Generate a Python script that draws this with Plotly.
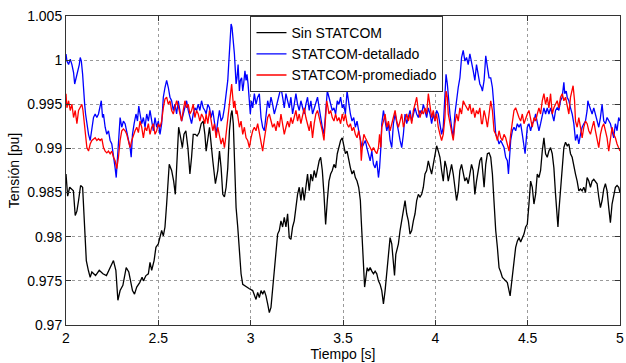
import plotly.graph_objects as go

# (time [s], voltage [pu]) samples
sin_statcom = [
    (2.000, 0.9871), (2.009, 0.9846), (2.020, 0.9856), (2.040, 0.9852), (2.050, 0.9824),
    (2.059, 0.9829), (2.068, 0.9841), (2.079, 0.9858), (2.090, 0.9856), (2.101, 0.9818),
    (2.110, 0.9773), (2.121, 0.9762), (2.131, 0.9754), (2.140, 0.9760), (2.160, 0.9756),
    (2.180, 0.9762), (2.200, 0.9758), (2.219, 0.9756), (2.239, 0.9765), (2.257, 0.9773),
    (2.270, 0.9762), (2.281, 0.9728), (2.293, 0.9739), (2.308, 0.9745), (2.326, 0.9765),
    (2.340, 0.9760), (2.360, 0.9739), (2.371, 0.9735), (2.383, 0.9743), (2.399, 0.9748),
    (2.412, 0.9754), (2.419, 0.9750), (2.433, 0.9756), (2.446, 0.9758), (2.455, 0.9771),
    (2.464, 0.9762), (2.477, 0.9773), (2.487, 0.9788), (2.500, 0.9792), (2.509, 0.9801),
    (2.518, 0.9807), (2.527, 0.9801), (2.536, 0.9811), (2.545, 0.9837), (2.559, 0.9882),
    (2.572, 0.9875), (2.583, 0.9863), (2.592, 0.9848), (2.601, 0.9879), (2.610, 0.9924),
    (2.621, 0.9912), (2.630, 0.9901), (2.639, 0.9916), (2.649, 0.9920), (2.660, 0.9901),
    (2.671, 0.9871), (2.680, 0.9890), (2.689, 0.9916), (2.700, 0.9916), (2.710, 0.9914),
    (2.721, 0.9918), (2.732, 0.9928), (2.743, 0.9931), (2.752, 0.9916),
    (2.759, 0.9897), (2.777, 0.9924), (2.795, 0.9886), (2.809, 0.9860), (2.822, 0.9875),
    (2.831, 0.9897), (2.840, 0.9878), (2.849, 0.9848), (2.858, 0.9845), (2.867, 0.9856),
    (2.876, 0.9878), (2.885, 0.9920), (2.894, 0.9939), (2.899, 0.9943), (2.906, 0.9928),
    (2.914, 0.9886), (2.921, 0.9833), (2.930, 0.9811), (2.939, 0.9780), (2.948, 0.9758),
    (2.957, 0.9746), (2.975, 0.9743), (2.993, 0.9741), (3.011, 0.9739), (3.029, 0.9729),
    (3.038, 0.9737), (3.047, 0.9731), (3.056, 0.9739), (3.065, 0.9735), (3.074, 0.9739),
    (3.083, 0.9733), (3.092, 0.9724), (3.101, 0.9714), (3.110, 0.9720), (3.119, 0.9739),
    (3.128, 0.9765), (3.137, 0.9780), (3.146, 0.9803), (3.155, 0.9807), (3.164, 0.9818),
    (3.173, 0.9811), (3.182, 0.9822), (3.191, 0.9811), (3.200, 0.9826), (3.209, 0.9799),
    (3.218, 0.9797), (3.227, 0.9811), (3.236, 0.9818), (3.245, 0.9833), (3.254, 0.9848),
    (3.263, 0.9856), (3.272, 0.9841), (3.281, 0.9856), (3.290, 0.9841), (3.299, 0.9856),
    (3.308, 0.9871), (3.317, 0.9852), (3.326, 0.9871), (3.335, 0.9863), (3.344, 0.9875),
    (3.353, 0.9867), (3.362, 0.9878), (3.371, 0.9886), (3.379, 0.9890), (3.388, 0.9875),
    (3.397, 0.9848), (3.406, 0.9814), (3.415, 0.9841), (3.424, 0.9863), (3.433, 0.9871),
    (3.442, 0.9875), (3.451, 0.9882), (3.460, 0.9878), (3.469, 0.9894), (3.478, 0.9901),
    (3.487, 0.9909), (3.496, 0.9912),
    (3.504, 0.9905), (3.513, 0.9894), (3.522, 0.9897), (3.531, 0.9886), (3.540, 0.9878),
    (3.549, 0.9871), (3.558, 0.9875), (3.567, 0.9867), (3.576, 0.9863), (3.585, 0.9856),
    (3.594, 0.9841), (3.599, 0.9818), (3.606, 0.9788), (3.612, 0.9758), (3.617, 0.9743),
    (3.624, 0.9754), (3.631, 0.9765), (3.638, 0.9761), (3.647, 0.9765), (3.656, 0.9761),
    (3.665, 0.9758), (3.674, 0.9761), (3.683, 0.9758), (3.692, 0.9750), (3.701, 0.9746),
    (3.710, 0.9739), (3.719, 0.9724), (3.728, 0.9739), (3.737, 0.9761), (3.746, 0.9780),
    (3.755, 0.9799), (3.764, 0.9792), (3.773, 0.9773), (3.779, 0.9756), (3.786, 0.9780),
    (3.793, 0.9788), (3.800, 0.9792), (3.809, 0.9807), (3.818, 0.9818), (3.827, 0.9833),
    (3.836, 0.9841), (3.845, 0.9826), (3.854, 0.9818), (3.863, 0.9803), (3.872, 0.9807),
    (3.881, 0.9818), (3.890, 0.9826), (3.899, 0.9841), (3.908, 0.9848), (3.917, 0.9845),
    (3.926, 0.9848), (3.935, 0.9856), (3.944, 0.9871), (3.953, 0.9875), (3.962, 0.9886),
    (3.971, 0.9878), (3.980, 0.9871), (3.989, 0.9882), (3.998, 0.9894), (4.007, 0.9903),
    (4.016, 0.9897), (4.025, 0.9890), (4.034, 0.9875), (4.043, 0.9863), (4.052, 0.9886),
    (4.061, 0.9878), (4.070, 0.9863), (4.079, 0.9875), (4.088, 0.9882), (4.097, 0.9871),
    (4.106, 0.9856), (4.115, 0.9841), (4.124, 0.9852), (4.133, 0.9875), (4.142, 0.9882),
    (4.151, 0.9871), (4.160, 0.9863), (4.169, 0.9867), (4.178, 0.9860), (4.187, 0.9871),
    (4.196, 0.9882), (4.205, 0.9875), (4.214, 0.9848), (4.223, 0.9863), (4.232, 0.9875),
    (4.241, 0.9886), (4.250, 0.9890),
    (4.255, 0.9878), (4.264, 0.9856), (4.273, 0.9882), (4.282, 0.9894), (4.291, 0.9895),
    (4.300, 0.9890), (4.309, 0.9871), (4.318, 0.9833), (4.327, 0.9807), (4.336, 0.9788),
    (4.345, 0.9765), (4.354, 0.9760), (4.363, 0.9754), (4.372, 0.9752), (4.381, 0.9750),
    (4.390, 0.9748), (4.399, 0.9739), (4.405, 0.9733), (4.412, 0.9746), (4.419, 0.9758),
    (4.426, 0.9777), (4.435, 0.9788), (4.444, 0.9795), (4.453, 0.9799), (4.462, 0.9794),
    (4.471, 0.9799), (4.480, 0.9803), (4.489, 0.9811), (4.498, 0.9814), (4.507, 0.9837),
    (4.516, 0.9863), (4.525, 0.9856), (4.534, 0.9837), (4.543, 0.9848), (4.552, 0.9871),
    (4.561, 0.9867), (4.570, 0.9875), (4.579, 0.9897), (4.588, 0.9912), (4.597, 0.9894),
    (4.606, 0.9890), (4.615, 0.9897), (4.624, 0.9901), (4.633, 0.9894), (4.642, 0.9878),
    (4.651, 0.9848), (4.660, 0.9814), (4.664, 0.9811), (4.669, 0.9829), (4.678, 0.9856),
    (4.687, 0.9882), (4.696, 0.9901), (4.705, 0.9907), (4.714, 0.9903), (4.723, 0.9905),
    (4.732, 0.9894), (4.741, 0.9890), (4.750, 0.9878), (4.759, 0.9871), (4.768, 0.9863),
    (4.777, 0.9852), (4.786, 0.9854), (4.795, 0.9852), (4.804, 0.9856), (4.813, 0.9850),
    (4.822, 0.9867), (4.831, 0.9863), (4.840, 0.9856), (4.849, 0.9863), (4.858, 0.9865),
    (4.867, 0.9863), (4.876, 0.9860), (4.885, 0.9845), (4.894, 0.9833), (4.903, 0.9841),
    (4.912, 0.9854), (4.921, 0.9860), (4.930, 0.9852), (4.939, 0.9833), (4.948, 0.9816),
    (4.957, 0.9837), (4.966, 0.9848), (4.975, 0.9856), (4.984, 0.9858), (4.993, 0.9856),
    (5.000, 0.9850),
]

statcom_detallado = [
    (2.000, 1.0007), (2.005, 0.9999), (2.014, 0.9995), (2.023, 1.0001), (2.032, 0.9995),
    (2.041, 0.9986), (2.047, 0.9973), (2.056, 0.9980), (2.063, 0.9986), (2.072, 0.9995),
    (2.077, 1.0003), (2.083, 0.9999), (2.090, 0.9984), (2.095, 0.9962), (2.101, 0.9950),
    (2.106, 0.9939), (2.113, 0.9928), (2.122, 0.9916), (2.131, 0.9909), (2.140, 0.9924),
    (2.149, 0.9935), (2.158, 0.9939), (2.167, 0.9935), (2.176, 0.9939), (2.185, 0.9950),
    (2.191, 0.9954), (2.198, 0.9935), (2.203, 0.9939), (2.212, 0.9924), (2.221, 0.9916),
    (2.230, 0.9920), (2.239, 0.9909), (2.248, 0.9905), (2.257, 0.9894), (2.266, 0.9878),
    (2.272, 0.9867), (2.279, 0.9886), (2.284, 0.9901), (2.293, 0.9935), (2.302, 0.9924),
    (2.311, 0.9931), (2.320, 0.9928), (2.329, 0.9920), (2.338, 0.9909), (2.347, 0.9901),
    (2.353, 0.9890), (2.360, 0.9916), (2.369, 0.9928), (2.379, 0.9939), (2.387, 0.9931),
    (2.394, 0.9948), (2.401, 0.9939), (2.410, 0.9928), (2.419, 0.9935), (2.428, 0.9924),
    (2.437, 0.9939), (2.446, 0.9931), (2.455, 0.9943), (2.464, 0.9931), (2.473, 0.9920),
    (2.482, 0.9935), (2.491, 0.9924), (2.500, 0.9931), (2.509, 0.9916), (2.518, 0.9928),
    (2.527, 0.9958), (2.536, 0.9969), (2.545, 0.9977), (2.554, 0.9969), (2.563, 0.9958),
    (2.572, 0.9954), (2.581, 0.9943), (2.590, 0.9950), (2.599, 0.9939), (2.608, 0.9954),
    (2.617, 0.9943), (2.626, 0.9931), (2.635, 0.9939), (2.644, 0.9946), (2.653, 0.9954),
    (2.662, 0.9943), (2.671, 0.9935), (2.680, 0.9928), (2.689, 0.9939), (2.698, 0.9946),
    (2.707, 0.9943), (2.716, 0.9950), (2.725, 0.9943), (2.734, 0.9954), (2.743, 0.9946),
    (2.752, 0.9943),
    (2.759, 0.9939), (2.768, 0.9950), (2.777, 0.9946), (2.786, 0.9935), (2.795, 0.9943),
    (2.804, 0.9928), (2.813, 0.9916), (2.822, 0.9931), (2.831, 0.9943), (2.840, 0.9931),
    (2.849, 0.9935), (2.858, 0.9946), (2.867, 0.9962), (2.876, 0.9977), (2.881, 0.9995),
    (2.888, 1.0022), (2.894, 1.0041), (2.899, 1.0037), (2.906, 1.0022), (2.912, 1.0007),
    (2.917, 0.9988), (2.921, 0.9973), (2.926, 0.9980), (2.932, 0.9995), (2.939, 0.9965),
    (2.944, 0.9977), (2.951, 0.9980), (2.957, 0.9965), (2.962, 0.9973), (2.969, 0.9988),
    (2.975, 0.9977), (2.980, 0.9984), (2.986, 0.9973), (2.993, 0.9946), (2.998, 0.9939),
    (3.004, 0.9954), (3.011, 0.9946), (3.020, 0.9962), (3.029, 0.9950), (3.038, 0.9958),
    (3.047, 0.9962), (3.056, 0.9935), (3.065, 0.9924), (3.074, 0.9920), (3.083, 0.9939),
    (3.092, 0.9954), (3.101, 0.9946), (3.110, 0.9958), (3.119, 0.9950), (3.128, 0.9939),
    (3.137, 0.9946), (3.146, 0.9954), (3.155, 0.9962), (3.164, 0.9969), (3.173, 0.9958),
    (3.182, 0.9946), (3.191, 0.9962), (3.200, 0.9954), (3.209, 0.9946), (3.218, 0.9958),
    (3.227, 0.9939), (3.236, 0.9950), (3.245, 0.9962), (3.254, 0.9950), (3.263, 0.9943),
    (3.272, 0.9954), (3.281, 0.9946), (3.290, 0.9939), (3.299, 0.9950), (3.308, 0.9958),
    (3.317, 0.9943), (3.326, 0.9954), (3.335, 0.9939), (3.344, 0.9946), (3.353, 0.9954),
    (3.362, 0.9958), (3.371, 0.9946), (3.379, 0.9935), (3.388, 0.9924), (3.397, 0.9916),
    (3.406, 0.9943), (3.415, 0.9965), (3.424, 0.9958), (3.433, 0.9950), (3.442, 0.9943),
    (3.451, 0.9946), (3.460, 0.9939), (3.469, 0.9954), (3.478, 0.9950), (3.487, 0.9958),
    (3.496, 0.9946),
    (3.504, 0.9950), (3.513, 0.9939), (3.522, 0.9965), (3.531, 0.9950), (3.540, 0.9939),
    (3.549, 0.9931), (3.558, 0.9935), (3.567, 0.9924), (3.576, 0.9931), (3.585, 0.9920),
    (3.594, 0.9912), (3.603, 0.9901), (3.612, 0.9905), (3.621, 0.9909), (3.629, 0.9901),
    (3.638, 0.9894), (3.647, 0.9886), (3.656, 0.9897), (3.665, 0.9882), (3.674, 0.9878),
    (3.683, 0.9886), (3.692, 0.9867), (3.698, 0.9878), (3.705, 0.9901), (3.710, 0.9928),
    (3.719, 0.9943), (3.728, 0.9931), (3.737, 0.9920), (3.746, 0.9928), (3.755, 0.9909),
    (3.764, 0.9901), (3.773, 0.9928), (3.782, 0.9939), (3.791, 0.9931), (3.800, 0.9920),
    (3.809, 0.9909), (3.818, 0.9901), (3.827, 0.9916), (3.836, 0.9939), (3.845, 0.9928),
    (3.854, 0.9935), (3.863, 0.9943), (3.872, 0.9931), (3.881, 0.9939), (3.890, 0.9946),
    (3.899, 0.9939), (3.908, 0.9935), (3.917, 0.9943), (3.926, 0.9939), (3.935, 0.9950),
    (3.944, 0.9943), (3.953, 0.9935), (3.962, 0.9946), (3.971, 0.9939), (3.980, 0.9928),
    (3.989, 0.9939), (3.998, 0.9931), (4.007, 0.9943), (4.016, 0.9939), (4.025, 0.9928),
    (4.034, 0.9916), (4.043, 0.9924), (4.052, 0.9969), (4.058, 0.9984), (4.065, 0.9973),
    (4.070, 0.9958), (4.079, 0.9939), (4.088, 0.9924), (4.097, 0.9912), (4.106, 0.9939),
    (4.115, 0.9958), (4.124, 0.9969), (4.133, 0.9980), (4.142, 1.0003), (4.151, 1.0011),
    (4.160, 0.9999), (4.169, 1.0003), (4.178, 0.9995), (4.187, 1.0007), (4.196, 0.9999),
    (4.205, 0.9988), (4.214, 0.9977), (4.223, 0.9995), (4.232, 0.9984), (4.241, 0.9973),
    (4.250, 0.9969),
    (4.255, 0.9965), (4.264, 0.9977), (4.273, 1.0005), (4.282, 0.9992), (4.291, 0.9980),
    (4.300, 0.9980), (4.309, 0.9969), (4.315, 0.9954), (4.322, 0.9928), (4.327, 0.9916),
    (4.336, 0.9912), (4.345, 0.9905), (4.354, 0.9909), (4.363, 0.9905), (4.372, 0.9901),
    (4.381, 0.9890), (4.390, 0.9886), (4.396, 0.9871), (4.401, 0.9894), (4.408, 0.9909),
    (4.417, 0.9920), (4.426, 0.9924), (4.435, 0.9920), (4.444, 0.9928), (4.453, 0.9924),
    (4.462, 0.9928), (4.471, 0.9916), (4.480, 0.9901), (4.486, 0.9894), (4.493, 0.9912),
    (4.498, 0.9924), (4.507, 0.9928), (4.516, 0.9920), (4.525, 0.9928), (4.534, 0.9931),
    (4.543, 0.9939), (4.552, 0.9931), (4.561, 0.9920), (4.570, 0.9928), (4.579, 0.9939),
    (4.588, 0.9946), (4.597, 0.9939), (4.606, 0.9946), (4.615, 0.9939), (4.624, 0.9946),
    (4.633, 0.9939), (4.642, 0.9931), (4.651, 0.9943), (4.660, 0.9946), (4.669, 0.9943),
    (4.678, 0.9954), (4.687, 0.9958), (4.696, 0.9975), (4.701, 0.9962), (4.709, 0.9965),
    (4.714, 0.9958), (4.723, 0.9954), (4.732, 0.9946), (4.741, 0.9939), (4.750, 0.9928),
    (4.759, 0.9909), (4.768, 0.9916), (4.777, 0.9905), (4.786, 0.9916), (4.795, 0.9924),
    (4.804, 0.9928), (4.813, 0.9931), (4.822, 0.9943), (4.826, 0.9954), (4.831, 0.9950),
    (4.840, 0.9943), (4.849, 0.9939), (4.858, 0.9946), (4.867, 0.9939), (4.876, 0.9931),
    (4.885, 0.9924), (4.894, 0.9935), (4.903, 0.9950), (4.912, 0.9931), (4.921, 0.9928),
    (4.930, 0.9935), (4.939, 0.9931), (4.948, 0.9928), (4.957, 0.9920), (4.966, 0.9912),
    (4.975, 0.9928), (4.984, 0.9920), (4.993, 0.9935), (5.000, 0.9931),
]

statcom_promediado = [
    (2.000, 0.9962), (2.005, 0.9946), (2.014, 0.9954), (2.023, 0.9943), (2.032, 0.9950),
    (2.041, 0.9935), (2.050, 0.9943), (2.059, 0.9928), (2.068, 0.9943), (2.077, 0.9946),
    (2.086, 0.9950), (2.092, 0.9943), (2.099, 0.9928), (2.106, 0.9909), (2.113, 0.9901),
    (2.122, 0.9897), (2.131, 0.9905), (2.140, 0.9909), (2.149, 0.9911), (2.158, 0.9912),
    (2.167, 0.9909), (2.176, 0.9911), (2.185, 0.9909), (2.194, 0.9911), (2.203, 0.9901),
    (2.212, 0.9897), (2.221, 0.9895), (2.230, 0.9897), (2.239, 0.9894), (2.248, 0.9897),
    (2.257, 0.9890), (2.266, 0.9886), (2.275, 0.9877), (2.284, 0.9890), (2.293, 0.9909),
    (2.302, 0.9920), (2.311, 0.9922), (2.320, 0.9920), (2.329, 0.9916), (2.338, 0.9909),
    (2.347, 0.9901), (2.356, 0.9909), (2.365, 0.9916), (2.374, 0.9920), (2.383, 0.9924),
    (2.392, 0.9918), (2.401, 0.9931), (2.410, 0.9924), (2.419, 0.9912), (2.428, 0.9924),
    (2.437, 0.9920), (2.446, 0.9928), (2.455, 0.9916), (2.464, 0.9924), (2.473, 0.9928),
    (2.482, 0.9916), (2.491, 0.9920), (2.500, 0.9928), (2.509, 0.9924), (2.518, 0.9931),
    (2.527, 0.9946), (2.536, 0.9956), (2.545, 0.9958), (2.554, 0.9950), (2.563, 0.9954),
    (2.572, 0.9943), (2.581, 0.9939), (2.590, 0.9946), (2.599, 0.9954), (2.608, 0.9948),
    (2.617, 0.9939), (2.626, 0.9931), (2.635, 0.9943), (2.644, 0.9954), (2.653, 0.9946),
    (2.662, 0.9950), (2.671, 0.9939), (2.680, 0.9943), (2.689, 0.9950), (2.698, 0.9935),
    (2.707, 0.9943), (2.716, 0.9939), (2.725, 0.9931), (2.734, 0.9939), (2.743, 0.9935),
    (2.752, 0.9928),
    (2.759, 0.9939), (2.768, 0.9928), (2.777, 0.9943), (2.786, 0.9931), (2.795, 0.9920),
    (2.804, 0.9928), (2.813, 0.9912), (2.822, 0.9924), (2.831, 0.9916), (2.840, 0.9905),
    (2.849, 0.9912), (2.858, 0.9901), (2.863, 0.9909), (2.871, 0.9924), (2.876, 0.9939),
    (2.885, 0.9950), (2.892, 0.9969), (2.897, 0.9973), (2.903, 0.9958), (2.908, 0.9946),
    (2.914, 0.9954), (2.921, 0.9939), (2.926, 0.9943), (2.932, 0.9931), (2.939, 0.9924),
    (2.948, 0.9931), (2.957, 0.9916), (2.966, 0.9924), (2.975, 0.9912), (2.984, 0.9909),
    (2.993, 0.9901), (3.002, 0.9912), (3.011, 0.9920), (3.020, 0.9924), (3.029, 0.9920),
    (3.038, 0.9928), (3.047, 0.9916), (3.056, 0.9905), (3.065, 0.9897), (3.070, 0.9905),
    (3.077, 0.9916), (3.083, 0.9924), (3.092, 0.9935), (3.101, 0.9939), (3.110, 0.9931),
    (3.119, 0.9924), (3.128, 0.9928), (3.137, 0.9920), (3.146, 0.9931), (3.155, 0.9924),
    (3.164, 0.9939), (3.173, 0.9928), (3.182, 0.9916), (3.191, 0.9924), (3.200, 0.9931),
    (3.209, 0.9924), (3.218, 0.9935), (3.227, 0.9928), (3.236, 0.9935), (3.245, 0.9943),
    (3.254, 0.9931), (3.263, 0.9939), (3.272, 0.9928), (3.281, 0.9939), (3.290, 0.9946),
    (3.299, 0.9935), (3.308, 0.9928), (3.317, 0.9920), (3.326, 0.9931), (3.335, 0.9912),
    (3.344, 0.9928), (3.353, 0.9939), (3.362, 0.9943), (3.371, 0.9935), (3.379, 0.9931),
    (3.388, 0.9920), (3.397, 0.9909), (3.406, 0.9939), (3.412, 0.9954), (3.419, 0.9946),
    (3.424, 0.9939), (3.433, 0.9943), (3.442, 0.9935), (3.451, 0.9931), (3.460, 0.9939),
    (3.469, 0.9931), (3.478, 0.9935), (3.487, 0.9928), (3.496, 0.9939),
    (3.504, 0.9931), (3.513, 0.9939), (3.522, 0.9928), (3.531, 0.9924), (3.540, 0.9928),
    (3.549, 0.9920), (3.558, 0.9924), (3.567, 0.9916), (3.576, 0.9912), (3.585, 0.9920),
    (3.594, 0.9909), (3.599, 0.9886), (3.606, 0.9905), (3.613, 0.9916), (3.621, 0.9912),
    (3.629, 0.9909), (3.638, 0.9905), (3.647, 0.9901), (3.656, 0.9897), (3.665, 0.9901),
    (3.674, 0.9897), (3.683, 0.9894), (3.692, 0.9901), (3.698, 0.9916), (3.705, 0.9901),
    (3.710, 0.9924), (3.719, 0.9931), (3.728, 0.9939), (3.737, 0.9924), (3.746, 0.9931),
    (3.755, 0.9920), (3.764, 0.9928), (3.773, 0.9935), (3.782, 0.9943), (3.791, 0.9931),
    (3.800, 0.9924), (3.809, 0.9931), (3.818, 0.9939), (3.827, 0.9924), (3.836, 0.9931),
    (3.845, 0.9939), (3.854, 0.9931), (3.863, 0.9939), (3.872, 0.9928), (3.881, 0.9943),
    (3.890, 0.9950), (3.899, 0.9958), (3.908, 0.9943), (3.917, 0.9935), (3.926, 0.9943),
    (3.935, 0.9939), (3.944, 0.9946), (3.953, 0.9939), (3.962, 0.9962), (3.971, 0.9946),
    (3.980, 0.9935), (3.989, 0.9943), (3.998, 0.9931), (4.007, 0.9939), (4.016, 0.9924),
    (4.025, 0.9916), (4.034, 0.9909), (4.043, 0.9916), (4.052, 0.9935), (4.058, 0.9965),
    (4.065, 0.9958), (4.070, 0.9939), (4.079, 0.9928), (4.088, 0.9916), (4.097, 0.9909),
    (4.106, 0.9928), (4.115, 0.9939), (4.124, 0.9931), (4.133, 0.9946), (4.142, 0.9939),
    (4.151, 0.9954), (4.160, 0.9950), (4.169, 0.9946), (4.178, 0.9943), (4.187, 0.9950),
    (4.196, 0.9939), (4.205, 0.9946), (4.214, 0.9935), (4.223, 0.9943), (4.232, 0.9939),
    (4.241, 0.9946), (4.250, 0.9928),
    (4.255, 0.9928), (4.264, 0.9943), (4.273, 0.9935), (4.282, 0.9924), (4.291, 0.9939),
    (4.300, 0.9954), (4.309, 0.9943), (4.318, 0.9920), (4.327, 0.9916), (4.336, 0.9909),
    (4.345, 0.9920), (4.354, 0.9912), (4.363, 0.9909), (4.372, 0.9916), (4.381, 0.9912),
    (4.390, 0.9905), (4.399, 0.9897), (4.408, 0.9916), (4.417, 0.9928), (4.426, 0.9943),
    (4.435, 0.9946), (4.444, 0.9939), (4.453, 0.9935), (4.462, 0.9931), (4.471, 0.9939),
    (4.480, 0.9928), (4.489, 0.9935), (4.498, 0.9939), (4.507, 0.9943), (4.516, 0.9931),
    (4.525, 0.9924), (4.534, 0.9935), (4.543, 0.9931), (4.552, 0.9939), (4.561, 0.9946),
    (4.570, 0.9939), (4.579, 0.9954), (4.588, 0.9962), (4.597, 0.9950), (4.606, 0.9958),
    (4.615, 0.9946), (4.624, 0.9962), (4.633, 0.9939), (4.642, 0.9946), (4.651, 0.9950),
    (4.660, 0.9954), (4.669, 0.9946), (4.678, 0.9958), (4.687, 0.9962), (4.696, 0.9954),
    (4.705, 0.9958), (4.714, 0.9946), (4.723, 0.9939), (4.732, 0.9958), (4.741, 0.9965),
    (4.746, 0.9971), (4.754, 0.9954), (4.759, 0.9931), (4.768, 0.9924), (4.777, 0.9935),
    (4.786, 0.9924), (4.795, 0.9912), (4.804, 0.9924), (4.813, 0.9931), (4.822, 0.9928),
    (4.831, 0.9920), (4.840, 0.9916), (4.849, 0.9924), (4.858, 0.9931), (4.867, 0.9920),
    (4.876, 0.9912), (4.885, 0.9901), (4.894, 0.9916), (4.903, 0.9924), (4.912, 0.9928),
    (4.921, 0.9920), (4.930, 0.9912), (4.939, 0.9897), (4.948, 0.9909), (4.957, 0.9924),
    (4.966, 0.9916), (4.975, 0.9912), (4.984, 0.9905), (4.993, 0.9901), (5.000, 0.9897),
]

x_ticks = [2, 2.5, 3, 3.5, 4, 4.5, 5]
x_tick_labels = ["2", "2.5", "3", "3.5", "4", "4.5", "5"]
y_ticks = [0.97, 0.975, 0.98, 0.985, 0.99, 0.995, 1.0, 1.005]
y_tick_labels = ["0.97", "0.975", "0.98", "0.985", "0.99", "0.995", "1", "1.005"]

series = [
    ("Sin STATCOM", sin_statcom, "#000000"),
    ("STATCOM-detallado", statcom_detallado, "#0000ff"),
    ("STATCOM-promediado", statcom_promediado, "#ff0000"),
]

FONT = "Liberation Sans, Arial, Helvetica, sans-serif"

fig = go.Figure()
for name, samples, color in series:
    t = [p[0] for p in samples]
    v = [p[1] for p in samples]
    fig.add_trace(go.Scatter(x=t, y=v, mode="lines", name=name,
                             line=dict(color=color, width=1.3)))

axis_common = dict(
    showline=True, linecolor="#333333", linewidth=1, mirror="ticks",
    ticks="inside", ticklen=5, tickcolor="#333333",
    showgrid=True, gridcolor="#9a9a9a", griddash="dot", gridwidth=1,
    zeroline=False, tickfont=dict(family=FONT, size=14, color="#000000"),
)

fig.update_layout(
    width=626, height=363,
    margin=dict(l=66, r=2, t=16, b=38),
    paper_bgcolor="white", plot_bgcolor="white",
    font=dict(family=FONT, size=14, color="#000000"),
    xaxis=dict(range=[2, 5], tickvals=x_ticks, ticktext=x_tick_labels,
               ticklabeloverflow="allow",
               title=dict(text="Tiempo [s]", standoff=0,
                          font=dict(family=FONT, size=14)),
               **axis_common),
    yaxis=dict(range=[0.97, 1.005], tickvals=y_ticks, ticktext=y_tick_labels,
               title=dict(text="Tensión [pu]", standoff=4,
                          font=dict(family=FONT, size=14)),
               **axis_common),
    legend=dict(x=0.333, y=1.0, xanchor="left", yanchor="top",
                bgcolor="white", bordercolor="#333333", borderwidth=1,
                font=dict(family=FONT, size=14), tracegroupgap=0),
    showlegend=True,
)

fig.write_html("out.html")
